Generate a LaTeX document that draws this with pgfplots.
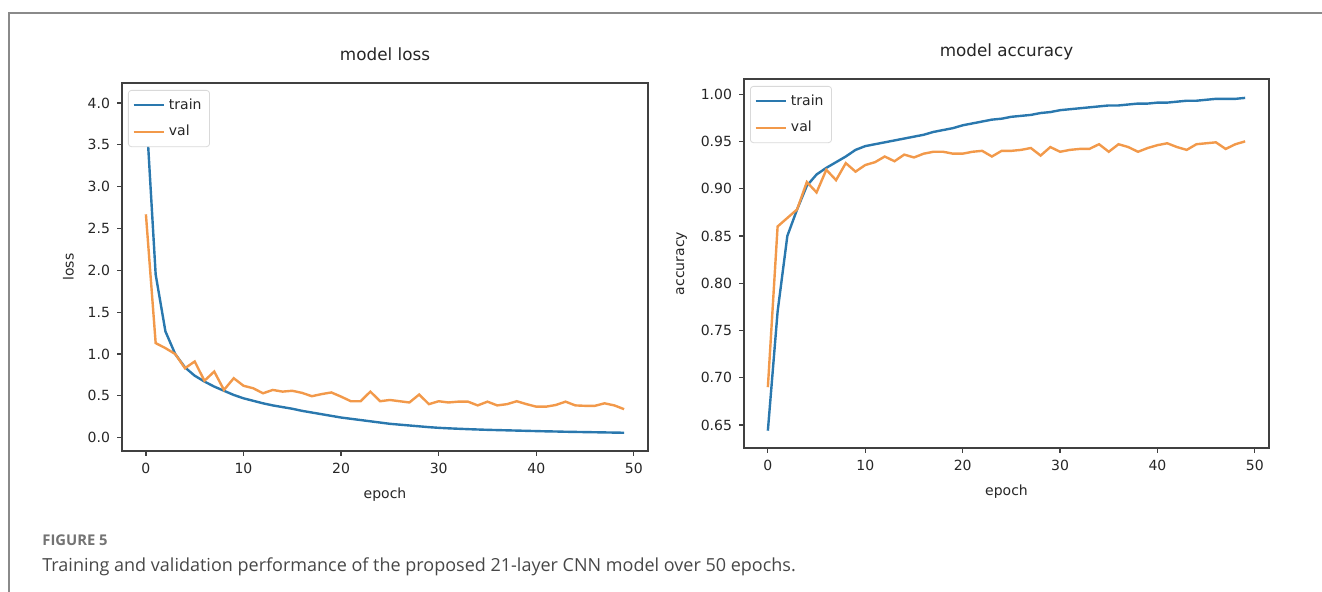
\documentclass[border=0pt]{standalone}
\usepackage{pgfplots}
\pgfplotsset{compat=1.18}
\usepackage{pgfplotstable}
\usepackage{fontspec}
\setmainfont{DejaVu Sans}
\newfontfamily\capfont{Open Sans}
\definecolor{trainc}{HTML}{2A78AE}
\definecolor{valc}{HTML}{F2994A}
\definecolor{framec}{HTML}{8A8A8A}

\pgfplotstableread{
ep trainloss valloss trainacc valacc
0 3.95 2.67 0.644 0.690
1 1.95 1.13 0.770 0.860
2 1.27 1.07 0.850 0.869
3 1.00 1.00 0.878 0.878
4 0.84 0.83 0.903 0.907
5 0.74 0.91 0.915 0.896
6 0.67 0.68 0.922 0.920
7 0.61 0.79 0.928 0.909
8 0.56 0.57 0.934 0.927
9 0.51 0.71 0.941 0.918
10 0.47 0.62 0.945 0.925
11 0.44 0.59 0.947 0.928
12 0.41 0.53 0.949 0.934
13 0.385 0.57 0.951 0.929
14 0.365 0.55 0.953 0.936
15 0.345 0.56 0.955 0.933
16 0.32 0.535 0.957 0.937
17 0.30 0.495 0.960 0.939
18 0.28 0.52 0.962 0.939
19 0.26 0.54 0.964 0.937
20 0.24 0.49 0.967 0.937
21 0.225 0.435 0.969 0.939
22 0.21 0.435 0.971 0.940
23 0.195 0.55 0.973 0.934
24 0.18 0.435 0.974 0.940
25 0.165 0.45 0.976 0.940
26 0.155 0.435 0.977 0.941
27 0.145 0.42 0.978 0.943
28 0.135 0.515 0.980 0.935
29 0.125 0.40 0.981 0.944
30 0.117 0.435 0.983 0.939
31 0.111 0.42 0.984 0.941
32 0.106 0.43 0.985 0.942
33 0.101 0.43 0.986 0.942
34 0.097 0.385 0.987 0.947
35 0.093 0.43 0.988 0.939
36 0.090 0.385 0.988 0.947
37 0.087 0.40 0.989 0.944
38 0.084 0.435 0.990 0.939
39 0.081 0.40 0.990 0.943
40 0.078 0.37 0.991 0.946
41 0.075 0.37 0.991 0.948
42 0.073 0.39 0.992 0.944
43 0.070 0.43 0.993 0.941
44 0.068 0.385 0.993 0.947
45 0.066 0.38 0.994 0.948
46 0.064 0.38 0.995 0.949
47 0.062 0.41 0.995 0.942
48 0.060 0.385 0.995 0.947
49 0.058 0.34 0.996 0.950
}\hist

\pgfplotsset{
  mystyle/.style={
    scale only axis,
    anchor=south west,
    xmin=-2.45, xmax=51.45,
    xtick={0,10,20,30,40,50},
    axis line style={draw=black!75, line width=0.8pt},
    tick style={black!75, line width=0.6pt},
    tick align=outside,
    major tick length=2.5pt,
    xtick pos=bottom, ytick pos=left,
    tick label style={font=\fontsize{7}{8}\selectfont, text=black!85},
    label style={font=\fontsize{7}{8}\selectfont, text=black!85},
    title style={font=\fontsize{8.4}{10}\selectfont, text=black!85, at={(0.5,1)}, anchor=base, yshift=5pt},
    /pgf/number format/assume math mode=true,
    xlabel={epoch},
    legend style={at={(0,1)}, anchor=north west, xshift=3pt, yshift=-3.5pt,
      draw=black!15, rounded corners=1.5pt, font=\fontsize{7}{8}\selectfont,
      inner sep=2pt, row sep=2.5pt, text=black!85},
    legend cell align=left,
    legend image code/.code={\draw[#1] (0cm,0cm) -- (0.53cm,0cm);},
  }
}

\begin{document}
\begin{tikzpicture}[x=0.5pt,y=0.5pt]
\useasboundingbox (0,0) rectangle (1322,592);
\draw[framec, line width=0.6pt] (9,0) -- (9,579) -- (1322,579);

\begin{axis}[mystyle,
  at={(61pt,70.5pt)}, width=263pt, height=184pt,
  ymin=-0.16, ymax=4.24,
  ytick={0,0.5,...,4.0},
  yticklabel style={/pgf/number format/.cd, fixed, fixed zerofill, precision=1},
  title={model loss}, ylabel={loss}]
\addplot[trainc, line width=1.2pt] table[x=ep, y=trainloss] {\hist};
\addlegendentry{train}
\addplot[valc, line width=1.2pt] table[x=ep, y=valloss] {\hist};
\addlegendentry{val}
\end{axis}

\begin{axis}[mystyle,
  at={(372pt,72pt)}, width=262.5pt, height=184.5pt,
  ymin=0.6257, ymax=1.016,
  ytick={0.65,0.70,...,1.001},
  yticklabel style={/pgf/number format/.cd, fixed, fixed zerofill, precision=2},
  title={model accuracy}, ylabel={accuracy}]
\addplot[trainc, line width=1.2pt] table[x=ep, y=trainacc] {\hist};
\addlegendentry{train}
\addplot[valc, line width=1.2pt] table[x=ep, y=valacc] {\hist};
\addlegendentry{val}
\end{axis}

\node[anchor=base west, inner sep=0, font=\capfont\bfseries\fontsize{7.4}{9}\selectfont, text=black!55] at (42,46) {FIGURE 5};
\node[anchor=base west, inner sep=0, font=\capfont\fontsize{9}{11}\selectfont, text=black!72] at (42,20) {Training and validation performance of the proposed 21-layer CNN model over 50 epochs.};
\end{tikzpicture}
\end{document}
